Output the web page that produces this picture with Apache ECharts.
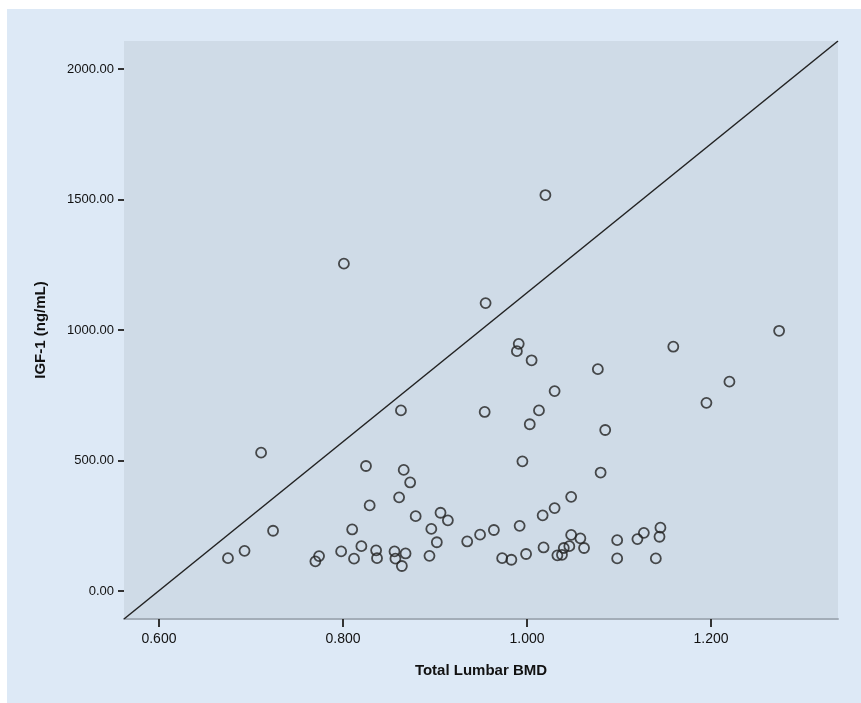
<!DOCTYPE html>
<html>
<head>
<meta charset="utf-8">
<script src="https://cdn.jsdelivr.net/npm/echarts@6/dist/echarts.min.js"></script>
<style>
  html, body { margin: 0; padding: 0; background: #fff; }
  #chart { position: absolute; left: 7px; top: 9px; width: 854px; height: 694px; }
</style>
</head>
<body>
<div id="chart"></div>
<script>
// Total Lumbar BMD (x) vs IGF-1 (y)
const bmd = [0.675, 0.693, 0.711, 0.724, 0.770, 0.774, 0.798, 0.801, 0.810, 0.812,
  0.820, 0.825, 0.829, 0.836, 0.837, 0.856, 0.857, 0.861, 0.863, 0.864,
  0.866, 0.868, 0.873, 0.879, 0.894, 0.896, 0.902, 0.906, 0.914, 0.935,
  0.949, 0.954, 0.955, 0.964, 0.973, 0.983, 0.989, 0.991, 0.992, 0.995,
  0.999, 1.003, 1.005, 1.013, 1.017, 1.018, 1.020, 1.030, 1.030, 1.033,
  1.038, 1.040, 1.046, 1.048, 1.048, 1.058, 1.062, 1.077, 1.080, 1.085,
  1.098, 1.098, 1.120, 1.127, 1.140, 1.144, 1.145, 1.159, 1.195, 1.220, 1.274];
const igf1 = [126, 154, 530, 231, 114, 134, 152, 1254, 236, 124,
  172, 479, 328, 156, 126, 152, 124, 359, 692, 96,
  464, 144, 416, 287, 135, 238, 187, 300, 271, 190,
  216, 686, 1103, 234, 126, 120, 919, 947, 250, 497,
  142, 639, 884, 692, 290, 167, 1517, 766, 318, 137,
  139, 165, 172, 361, 215, 202, 165, 850, 454, 617,
  195, 125, 199, 223, 125, 208, 243, 936, 721, 802, 997];

const xTicks = [0.6, 0.8, 1.0, 1.2];
const yTicks = [0, 500, 1000, 1500, 2000];
const xRange = [0.562, 1.338];
const yRange = [-107, 2107];
// reference line runs corner to corner
const refLine = [[xRange[0], yRange[0]], [xRange[1], yRange[1]]];

const points = bmd.map((v, i) => [v, igf1[i]]);
const font = 'Liberation Sans, Arial, sans-serif';

const chart = echarts.init(document.getElementById('chart'));
chart.setOption({
  backgroundColor: '#dde9f6',
  animation: false,
  grid: {
    left: 117, top: 32, right: 23, bottom: 84,
    show: true, backgroundColor: '#cfdbe7', borderWidth: 0
  },
  xAxis: {
    type: 'value',
    min: xRange[0], max: xRange[1],
    name: 'Total Lumbar BMD',
    nameLocation: 'middle',
    nameGap: 44,
    nameTextStyle: { fontFamily: font, fontWeight: 'bold', fontSize: 15, color: '#111' },
    splitLine: { show: false },
    axisLine: { show: true, onZero: false, lineStyle: { color: '#a3adb8', width: 2 } },
    axisTick: { show: true, length: 8, customValues: xTicks, lineStyle: { color: '#333', width: 2 } },
    axisLabel: {
      customValues: xTicks, margin: 13,
      fontFamily: font, fontSize: 14, color: '#111',
      formatter: v => v.toFixed(3)
    }
  },
  yAxis: {
    type: 'value',
    min: yRange[0], max: yRange[1],
    name: 'IGF-1 (ng/mL)',
    nameLocation: 'middle',
    nameGap: 76,
    nameTextStyle: { fontFamily: font, fontWeight: 'bold', fontSize: 15, color: '#111' },
    splitLine: { show: false },
    axisLine: { show: false, onZero: false },
    axisTick: { show: true, length: 6, customValues: yTicks, lineStyle: { color: '#333', width: 2 } },
    axisLabel: {
      customValues: yTicks, margin: 10,
      fontFamily: font, fontSize: 13, color: '#111',
      formatter: v => v.toFixed(2)
    }
  },
  series: [
    {
      type: 'line',
      data: refLine,
      symbol: 'none',
      lineStyle: { color: '#222', width: 1.5 },
      silent: true,
      z: 2
    },
    {
      type: 'scatter',
      data: points,
      symbol: 'circle',
      symbolSize: 10,
      itemStyle: { color: 'rgba(0,0,0,0)', borderColor: '#222', borderWidth: 1.8 },
      z: 3
    }
  ]
});
</script>
</body>
</html>
